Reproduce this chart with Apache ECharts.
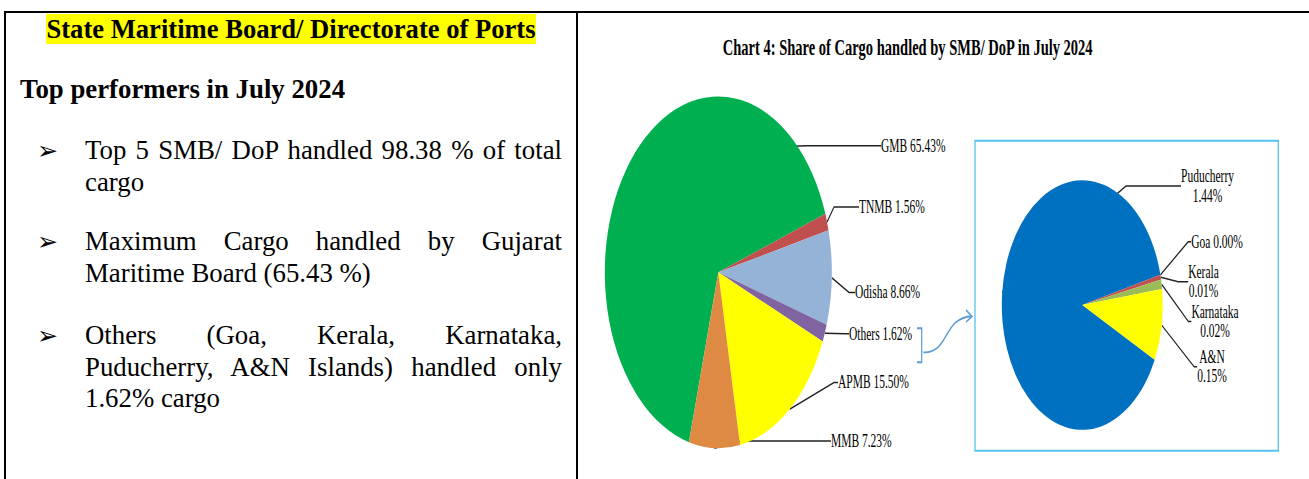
<!DOCTYPE html>
<html>
<head>
<meta charset="utf-8">
<title>Share of Cargo handled by SMB/ DoP in July 2024</title>
<script src="https://cdn.jsdelivr.net/npm/echarts@6/dist/echarts.min.js"></script>
<style>
  html, body { margin: 0; padding: 0; background: #fff; }
  #page { position: relative; width: 1309px; height: 479px; overflow: hidden; color: #000;
          font-family: "Liberation Serif", "Times New Roman", serif; }
  .rule { position: absolute; background: #000; }
  #smb-title { position: absolute; left: 5px; top: 13.5px; width: 572px; text-align: center;
               font-size: 26.6px; font-weight: bold; line-height: 30px; }
  #smb-title span { background: #ffff00; }
  #heading { position: absolute; left: 20px; top: 74px; font-size: 26.8px; font-weight: bold; line-height: 30px; }
  .point { position: absolute; left: 85px; width: 477px; font-size: 26.8px; line-height: 31.5px; text-align: justify; }
  .point .mark { position: absolute; left: -48px; top: 0; font-family: "DejaVu Sans", sans-serif; font-size: 25px; line-height: 31.5px; }
  #chart { position: absolute; left: 580px; top: 0; width: 729px; height: 309px;
           transform: scaleY(1.55); transform-origin: 0 0; }
</style>
</head>
<body>
<div id="page">
  <div class="rule" style="left:4px;top:11px;width:1305px;height:2px"></div>
  <div class="rule" style="left:4px;top:11px;width:2px;height:468px"></div>
  <div class="rule" style="left:576px;top:11px;width:2px;height:468px"></div>

  <div id="smb-title"><span>State Maritime Board/ Directorate of Ports</span></div>
  <div id="heading">Top performers in July 2024</div>

  <div class="point" style="top:135px"><span class="mark">&#x27A2;</span>Top 5 SMB/ DoP handled 98.38 % of total cargo</div>
  <div class="point" style="top:226px"><span class="mark">&#x27A2;</span>Maximum Cargo handled by Gujarat Maritime Board (65.43 %)</div>
  <div class="point" style="top:320px"><span class="mark">&#x27A2;</span>Others (Goa, Kerala, Karnataka, Puducherry, A&amp;N Islands) handled only 1.62% cargo</div>

  <div id="chart"></div>
</div>

<script>
// share of cargo, % of all SMB/ DoP traffic
const mainNames = ['GMB', 'TNMB', 'Odisha', 'Others', 'APMB', 'MMB'];
const mainShares = [65.43, 1.56, 8.66, 1.62, 15.50, 7.23];

// break-up of "Others"
const othersNames = ['Puducherry', 'Goa', 'Kerala', 'Karnataka', 'A&N'];
const othersShares = [1.44, 0.00, 0.01, 0.02, 0.15];

const mainColors = ['#00B050', '#C0504D', '#95B3D7', '#8064A2', '#FFFF00', '#DE8A42'];
const othersColors = ['#0070C0', '#ED7D31', '#C0504D', '#9BBB59', '#FFFF00'];

// label spots in chart units (the chart div is stretched 1.55x vertically)
const mainLabelAt = [[301, 94], [279, 133.5], [275, 188.7], [269, 215.3], [258, 246.8], [251, 284.5]];
const mainLead = [75, 25, 6, 3, 4, 90];
const othersLabelAt = [[627.5, 120], [637, 156], [623.5, 181.8], [635, 207.4], [632, 236.6]];
const othersLead = [55, 3, 10, 3, 3];
const othersBreak = ['\n', ' ', '\n', '\n', '\n'];

const serif = '"Liberation Serif", "Times New Roman", serif';
const blue = '#5B9BD5';

const chart = echarts.init(document.getElementById('chart'), null, { renderer: 'svg' });

chart.setOption({
  animation: false,
  graphic: [
    {
      type: 'text', x: 327.7, y: 30.6,
      style: {
        text: 'Chart 4: Share of Cargo handled by SMB/ DoP in July 2024',
        fontFamily: serif, fontSize: 14.5, fontWeight: 'bold', fill: '#000',
        align: 'center', verticalAlign: 'middle'
      }
    },
    {
      type: 'rect', z: -1,
      shape: { x: 395, y: 90.8, width: 303.3, height: 200 },
      style: { fill: 'none', stroke: '#55C3EF', lineWidth: 1.3 }
    },
    {
      type: 'polyline',
      shape: { points: [[337, 211.8], [341.7, 211.8], [341.7, 233.7], [337, 233.7]] },
      style: { fill: 'none', stroke: blue, lineWidth: 1.2 }
    },
    {
      type: 'bezierCurve',
      shape: { x1: 343.3, y1: 227.3, cpx1: 370, cpy1: 228, cpx2: 362, cpy2: 205, x2: 392, y2: 204 },
      style: { fill: 'none', stroke: blue, lineWidth: 1.2 }
    },
    {
      type: 'polyline',
      shape: { points: [[386, 200], [392, 204.2], [386, 207.7]] },
      style: { fill: 'none', stroke: blue, lineWidth: 1.2 }
    }
  ],
  series: [
    {
      name: 'SMB/ DoP',
      type: 'pie',
      center: [138.3, 175.7],
      radius: 113.5,
      startAngle: 255,
      clockwise: true,
      avoidLabelOverlap: false,
      silent: true,
      data: mainNames.map(function (name, i) {
        return {
          name: name,
          value: mainShares[i],
          itemStyle: { color: mainColors[i] },
          labelLine: { length2: mainLead[i] }
        };
      }),
      label: {
        show: true,
        fontFamily: serif,
        fontSize: 11.5,
        color: '#000',
        formatter: function (p) {
          return p.name + ' ' + p.value.toFixed(2) + '%';
        }
      },
      labelLine: { show: true, length: 4, lineStyle: { color: '#222', width: 1 } },
      labelLayout: function (p) {
        const at = mainLabelAt[p.dataIndex];
        return { x: at[0], y: at[1], align: 'left', verticalAlign: 'middle' };
      }
    },
    {
      name: 'Others',
      type: 'pie',
      center: [502.3, 196.8],
      radius: 80.5,
      startAngle: 334,
      clockwise: true,
      avoidLabelOverlap: false,
      silent: true,
      data: othersNames.map(function (name, i) {
        return {
          name: name,
          value: othersShares[i],
          itemStyle: { color: othersColors[i] },
          labelLine: { length2: othersLead[i] }
        };
      }),
      label: {
        show: true,
        fontFamily: serif,
        fontSize: 11.5,
        lineHeight: 12.5,
        color: '#000',
        align: 'center',
        formatter: function (p) {
          return p.name + othersBreak[p.dataIndex] + p.value.toFixed(2) + '%';
        }
      },
      labelLine: { show: true, length: 4, lineStyle: { color: '#222', width: 1 } },
      labelLayout: function (p) {
        const at = othersLabelAt[p.dataIndex];
        return { x: at[0], y: at[1], align: 'center', verticalAlign: 'middle' };
      }
    }
  ]
});
</script>
</body>
</html>
